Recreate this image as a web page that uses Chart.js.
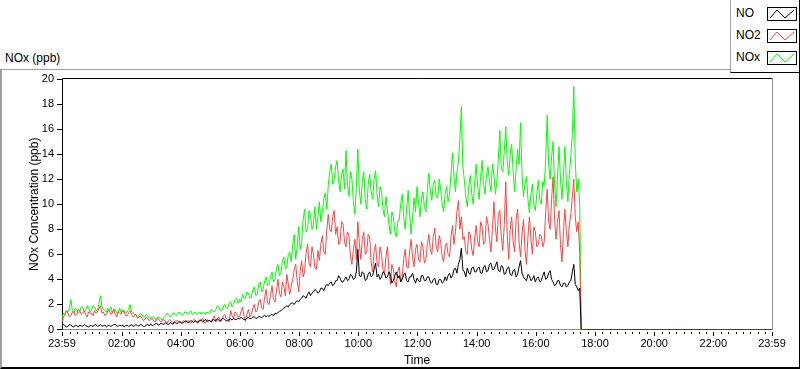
<!DOCTYPE html>
<html lang="en">
<head>
  <meta charset="UTF-8" />
  <title>NOx (ppb)</title>
  <style>
    body {
      margin: 0;
      background: #fff;
      font-family: "Liberation Sans", Arial, sans-serif;
      color: #000;
    }
    #wrap { position: relative; width: 800px; height: 369px; overflow: hidden; }
    .panel {
      position: absolute; left: 0; top: 69px; width: 800px; height: 300px;
      box-sizing: border-box;
      border-left: 2px solid #a0a0a0; border-top: 1px solid #a0a0a0;
      border-right: 1px solid #000; border-bottom: 2px solid #000;
    }
    .ptitle { position: absolute; left: 5px; top: 51px; font-size: 12px; }
    #legend {
      position: absolute; left: 730px; top: 0; width: 70px; height: 73px;
      box-sizing: border-box; background: #fff; z-index: 2;
      border-left: 1px solid #a0a0a0; border-bottom: 1px solid #000; border-right: 1px solid #000;
    }
    .item { position: absolute; left: 5px; font-size: 12px; }
    .item svg { position: absolute; left: 31px; top: 1px; }
    canvas { position: absolute; left: 0; top: 0; z-index: 1; }
  </style>
</head>
<body>
<div id="wrap">
  <div class="panel"></div>
  <div class="ptitle">NOx (ppb)</div>
  <div id="legend"></div>
  <canvas id="noxChart" width="800" height="369"></canvas>
</div>

<script src="https://cdn.jsdelivr.net/npm/chart.js"></script>
<script>
  // samples every 3 minutes starting at 23:59 (minute -1 of the day)
  const startMin = -1;
  const stepMin = 3;
  const dropMin = 1052;   // logger stops, all series fall to 0
  const endMin = 1439;

  const noValues = [
    0.5,0.4,0.3,0.2,0.25,0.4,0.35,0.25,0.2,0.35,0.3,0.2,0.35,0.3,0.25,0.4,0.3,0.25,0.2,0.3,
    0.3,0.25,0.35,0.4,0.25,0.3,0.4,0.25,0.3,0.35,0.2,0.3,0.35,0.25,0.3,0.4,0.4,0.3,0.25,0.35,
    0.3,0.35,0.2,0.3,0.35,0.25,0.3,0.4,0.25,0.3,0.4,0.3,0.3,0.4,0.35,0.25,0.25,0.35,0.4,0.3,
    0.45,0.3,0.35,0.45,0.5,0.35,0.4,0.5,0.45,0.4,0.55,0.45,0.4,0.55,0.5,0.4,0.6,0.5,0.5,0.6,
    0.6,0.5,0.55,0.65,0.7,0.55,0.6,0.7,0.65,0.55,0.7,0.6,0.6,0.75,0.75,0.6,0.7,0.8,0.65,0.7,
    0.7,0.6,0.8,0.75,0.7,0.85,0.75,0.65,0.85,0.9,0.8,0.7,0.7,0.8,0.85,0.75,0.9,0.8,0.8,0.9,
    0.85,0.95,0.9,0.8,0.8,0.9,0.95,0.85,0.9,1.0,1.0,0.9,0.9,1.05,1.0,0.95,1.05,1.15,1.0,1.1,
    1.05,1.15,1.2,1.1,1.3,1.25,1.35,1.45,1.5,1.6,1.7,1.8,1.9,1.8,2.0,2.1,2.1,2.0,2.2,2.3,
    2.2,2.4,2.5,2.7,2.6,2.5,2.8,3.0,2.7,2.9,3.0,3.2,3.1,2.9,3.0,3.3,3.3,3.1,3.4,3.6,
    3.5,3.7,3.8,3.5,3.6,3.9,3.9,4.3,4.1,3.8,3.8,4.0,4.2,3.9,4.0,4.4,4.3,4.0,4.1,4.6,
    6.4,4.3,4.2,4.6,4.5,3.9,4.0,4.4,4.6,4.2,4.3,4.8,5.3,4.2,4.4,4.0,4.2,4.6,4.5,4.1,
    4.2,4.6,4.4,3.7,3.9,4.3,4.6,4.1,4.3,3.8,4.0,4.4,4.5,3.9,3.8,4.2,4.2,4.5,4.0,3.7,
    4.1,3.9,3.8,4.3,4.3,3.9,3.9,4.2,4.2,3.8,3.7,4.0,4.1,3.6,3.6,4.0,4.0,3.7,3.8,4.2,
    3.9,4.3,4.5,4.1,4.3,4.8,4.9,4.5,5.2,5.6,6.5,4.8,4.6,4.2,4.9,4.5,4.4,4.9,5.0,4.6,
    4.6,4.9,5.0,4.5,4.5,5.0,5.1,4.6,4.7,5.2,5.3,4.8,4.8,5.1,5.4,4.7,4.6,5.1,5.0,4.4,
    4.5,4.9,5.0,4.4,4.3,4.7,4.8,4.2,4.4,5.0,5.5,4.5,4.2,4.0,3.9,4.4,4.3,3.9,4.0,4.3,
    3.8,4.1,4.2,3.8,3.9,4.3,4.6,4.0,4.1,4.5,4.7,4.0,3.8,3.5,3.6,3.9,3.9,3.5,3.4,3.7,
    3.7,3.4,3.5,3.8,3.9,4.6,5.2,3.6,3.4,3.1,3.3
  ];

  const no2Values = [
    0.6,1.0,1.2,1.5,1.3,1.0,1.1,1.4,1.4,1.1,1.2,1.6,1.5,1.2,1.3,1.5,1.2,1.0,1.4,1.3,
    1.3,1.1,1.5,1.3,1.4,1.7,1.9,1.3,1.4,1.1,1.2,1.5,1.5,1.2,1.3,1.6,1.2,1.0,1.4,1.3,
    1.2,1.5,1.4,1.1,1.1,1.3,1.5,1.2,1.0,1.1,1.2,0.9,1.0,1.1,0.9,0.7,0.8,1.0,0.9,0.7,
    0.8,0.9,0.7,0.6,0.8,0.9,0.7,0.6,0.75,0.8,0.6,0.5,0.7,0.8,0.65,0.55,0.6,0.7,0.7,0.6,
    0.6,0.5,0.7,0.6,0.55,0.7,0.65,0.5,0.6,0.8,0.75,0.6,0.5,0.7,0.7,0.9,0.6,0.5,0.8,0.7,
    0.7,0.6,0.9,1.1,0.6,0.8,1.0,0.7,0.7,1.1,1.2,0.9,0.8,0.6,1.5,1.1,0.9,1.4,1.3,1.0,
    1.0,1.4,1.8,1.1,0.6,1.2,1.6,1.0,1.2,1.7,2.0,1.4,1.5,2.2,2.4,1.7,1.6,2.6,3.2,2.1,
    2.0,2.8,3.5,2.4,2.2,3.1,4.0,2.9,2.6,3.8,3.4,2.7,4.4,3.6,2.8,3.5,4.0,4.8,5.2,3.9,
    3.0,4.6,5.5,4.2,4.6,6.1,6.8,5.3,5.0,6.6,6.0,4.9,4.8,6.3,5.5,6.8,7.5,6.2,6.0,7.9,
    9.2,8.0,7.8,9.0,9.5,7.6,8.2,6.8,7.0,8.6,8.4,7.0,6.6,7.8,7.5,5.8,5.2,6.4,7.2,5.6,
    8.6,6.9,5.6,7.2,7.8,6.0,6.2,7.6,7.4,5.4,4.6,6.2,6.8,5.3,5.0,6.6,6.0,4.8,4.4,5.8,
    6.6,4.8,3.6,5.2,4.8,3.9,3.4,4.6,5.0,3.8,4.2,5.6,6.4,5.0,4.9,6.2,7.2,5.8,5.0,6.4,
    6.8,5.6,5.4,7.0,6.6,5.3,5.6,6.8,7.6,6.4,6.0,7.4,8.1,6.6,6.2,7.5,7.0,5.8,5.4,6.6,
    6.9,6.0,5.8,7.4,8.3,6.8,7.8,9.4,10.3,8.0,9.0,7.2,7.4,6.2,6.0,7.8,7.6,6.4,5.9,7.3,
    8.3,7.0,6.6,8.6,8.2,6.8,7.0,9.0,8.4,7.2,6.2,8.0,10.2,8.1,7.0,9.2,9.5,7.4,6.3,8.4,
    11.8,7.6,5.6,8.0,9.0,7.0,6.2,8.8,9.6,7.0,5.8,7.6,8.8,6.4,5.2,7.4,9.0,7.2,6.0,8.2,
    7.8,6.6,6.8,7.6,7.5,6.6,7.0,9.4,11.2,8.6,8.0,10.4,12.2,8.8,7.2,8.6,9.5,6.8,5.4,7.8,
    9.6,7.8,6.6,8.4,9.2,10.6,12.0,9.0,7.8,8.6,6.2
  ];

  const noxValues = [
    0.9,1.3,1.2,1.5,1.4,1.7,2.4,1.5,1.3,1.7,1.6,1.3,1.4,1.8,1.8,1.4,1.5,1.9,1.7,1.4,
    1.6,1.9,1.8,1.5,1.5,2.0,2.7,1.8,1.6,1.5,1.4,1.7,1.5,1.8,1.3,1.6,1.6,1.3,1.4,1.7,
    1.3,1.6,1.5,1.3,1.4,1.6,2.0,1.4,1.3,1.2,1.2,1.0,1.1,1.3,1.2,1.0,1.0,1.2,1.1,0.9,
    0.9,1.0,1.0,0.8,0.85,1.0,0.95,0.8,0.8,1.0,1.1,1.3,1.2,1.0,1.1,1.3,1.3,1.1,1.2,1.4,
    1.3,1.1,1.2,1.4,1.4,1.2,1.3,1.5,1.2,1.3,1.4,1.2,1.3,1.4,1.2,1.4,1.3,1.2,1.4,1.3,
    1.3,1.6,1.5,1.4,1.6,1.9,1.8,1.5,1.5,1.8,2.0,1.7,1.7,2.1,2.2,1.8,2.0,2.4,2.5,2.1,
    2.4,2.2,2.8,2.5,2.5,3.0,2.9,2.5,2.6,3.2,3.4,2.7,2.8,3.6,3.8,3.0,3.2,3.9,4.2,3.5,
    3.6,4.2,4.6,3.8,4.0,4.9,5.2,4.3,4.5,5.5,5.8,4.8,5.0,6.0,6.2,5.4,6.8,7.6,5.6,6.6,
    8.2,6.4,7.0,8.8,9.6,7.8,8.0,9.5,9.2,8.0,8.4,9.8,8.0,9.0,10.2,8.6,9.4,10.4,10.9,9.6,
    11.5,12.6,13.2,11.6,12.0,13.0,13.5,11.8,11.0,12.4,12.8,11.2,14.3,11.6,10.6,12.6,12.0,10.2,9.2,11.4,
    14.4,11.2,10.0,11.8,12.6,10.4,9.6,11.6,12.4,11.0,10.4,12.0,12.7,10.8,9.8,11.4,11.0,9.6,9.0,10.6,
    9.6,8.4,7.6,9.4,9.0,7.8,7.4,8.6,8.8,10.0,10.8,9.0,8.0,9.6,11.1,9.2,7.6,9.0,10.5,9.4,
    11.4,10.2,9.0,10.4,11.0,9.8,9.4,11.2,12.5,11.0,10.3,11.6,11.9,10.6,10.5,12.0,11.2,10.0,9.4,10.8,
    11.4,10.2,10.8,12.4,14.1,12.2,11.0,12.6,13.4,15.2,17.8,13.0,11.9,10.6,9.8,11.4,12.3,10.8,10.0,11.8,
    13.2,11.4,10.4,12.2,13.5,11.6,10.8,12.4,13.0,11.8,11.0,13.2,12.4,10.8,11.8,13.6,15.9,12.8,12.6,14.2,
    16.2,13.4,12.3,14.0,14.8,12.6,11.0,12.8,14.4,13.2,16.5,12.4,10.6,11.6,12.2,10.4,9.3,10.8,11.6,10.0,
    9.5,10.8,11.9,10.4,10.0,11.8,11.5,13.6,17.1,13.2,12.0,13.8,15.0,11.6,9.8,12.2,14.6,12.0,10.4,12.4,
    14.6,11.8,10.2,12.4,13.8,15.6,19.4,13.4,11.0,12.0,10.0
  ];

  // major ticks on the time axis (minutes of the day) and their labels
  const xTickValues = [-1, 120, 240, 360, 480, 600, 720, 840, 960, 1080, 1200, 1320, 1439];
  const xTickLabels = ['23:59', '02:00', '04:00', '06:00', '08:00', '10:00', '12:00',
                       '14:00', '16:00', '18:00', '20:00', '22:00', '23:59'];

  const seriesNames = ['NO', 'NO2', 'NOx'];
  const seriesColors = ['#000000', '#ff4444', '#00ff00'];

  const toPoints = (vals) => {
    const pts = vals.map((v, i) => ({ x: startMin + i * stepMin, y: v }));
    pts.push({ x: dropMin, y: 0 }, { x: endMin, y: 0 });
    return pts;
  };

  // legend (html, top right box)
  const legend = document.getElementById('legend');
  seriesNames.forEach((name, i) => {
    const d = document.createElement('div');
    d.className = 'item';
    d.style.top = (6 + i * 22) + 'px';
    d.innerHTML = name +
      '<svg width="30" height="14" viewBox="0 0 30 14">' +
      '<rect x="0.5" y="0.5" width="29" height="13" fill="#fff" stroke="#000"/>' +
      '<polyline points="3,11 10,3 18,11 27,3" fill="none" stroke="' + seriesColors[i] + '" stroke-width="1"/>' +
      '</svg>';
    legend.appendChild(d);
  });

  // plot frame: black top/left, grey right/bottom (under the data lines)
  const framePlugin = {
    id: 'frame',
    beforeDatasetsDraw(chart) {
      const { ctx, chartArea: a } = chart;
      const b = Math.floor(a.bottom) + 0.5;
      ctx.save();
      ctx.lineWidth = 1;
      ctx.strokeStyle = '#8c8c8c';
      ctx.beginPath();
      ctx.moveTo(772.5, a.top);
      ctx.lineTo(772.5, b);
      ctx.lineTo(a.left, b);
      ctx.stroke();
      ctx.strokeStyle = '#000';
      ctx.beginPath();
      ctx.moveTo(a.left + 0.5, b);
      ctx.lineTo(a.left + 0.5, a.top - 0.5);
      ctx.lineTo(772.5, a.top - 0.5);
      ctx.stroke();
      ctx.restore();
    }
  };

  // major and minor tick marks below the time axis
  const timeTicksPlugin = {
    id: 'timeTicks',
    afterDraw(chart) {
      const { ctx } = chart;
      const xs = chart.scales.x;
      const y0 = Math.floor(chart.chartArea.bottom) + 3;
      ctx.save();
      ctx.strokeStyle = '#000';
      ctx.lineWidth = 1;
      ctx.beginPath();
      for (let m = 15; m < 1439; m += 15) {
        if (m % 120 === 0) continue;
        const px = Math.round(xs.getPixelForValue(m)) + 0.5;
        ctx.moveTo(px, y0);
        ctx.lineTo(px, y0 + 2);
      }
      xTickValues.forEach(v => {
        const px = Math.round(xs.getPixelForValue(v)) + 0.5;
        ctx.moveTo(px, y0);
        ctx.lineTo(px, y0 + 4);
      });
      ctx.stroke();
      ctx.restore();
    }
  };

  new Chart(document.getElementById('noxChart'), {
    type: 'line',
    data: {
      datasets: [
        { label: seriesNames[0], data: toPoints(noValues), borderColor: seriesColors[0] },
        { label: seriesNames[1], data: toPoints(no2Values), borderColor: seriesColors[1] },
        { label: seriesNames[2], data: toPoints(noxValues), borderColor: seriesColors[2] }
      ]
    },
    options: {
      responsive: false,
      animation: false,
      devicePixelRatio: 1,
      layout: { padding: { top: 79, right: 28, left: 0, bottom: 0 } },
      elements: {
        line: { borderWidth: 1, tension: 0, fill: false },
        point: { radius: 0 }
      },
      plugins: {
        legend: { display: false },
        tooltip: { enabled: false }
      },
      scales: {
        x: {
          type: 'linear',
          min: startMin,
          max: endMin,
          afterBuildTicks: (scale) => { scale.ticks = xTickValues.map(v => ({ value: v })); },
          afterFit: (scale) => { scale.height = 39.5; },
          border: { display: false },
          grid: { drawOnChartArea: false, drawTicks: false },
          ticks: {
            autoSkip: false,
            maxRotation: 0,
            padding: 8,
            color: '#000',
            font: { family: '"Liberation Sans", Arial, sans-serif', size: 11 },
            callback: (v, i) => xTickLabels[i]
          },
          title: {
            display: true,
            text: 'Time',
            color: '#000',
            padding: { top: 0, bottom: 1 },
            font: { family: '"Liberation Sans", Arial, sans-serif', size: 12 }
          }
        },
        y: {
          min: 0,
          max: 20,
          afterFit: (scale) => { scale.width = 62; },
          border: { display: false },
          grid: { drawOnChartArea: false, drawTicks: true, tickLength: 5, tickColor: '#000' },
          ticks: {
            stepSize: 2,
            padding: 3,
            color: '#000',
            font: { family: '"Liberation Sans", Arial, sans-serif', size: 11 }
          },
          title: {
            display: true,
            text: 'NOx Concentration (ppb)',
            color: '#000',
            padding: { top: 27, bottom: 0 },
            font: { family: '"Liberation Sans", Arial, sans-serif', size: 12 }
          }
        }
      }
    },
    plugins: [framePlugin, timeTicksPlugin]
  });
</script>
</body>
</html>
